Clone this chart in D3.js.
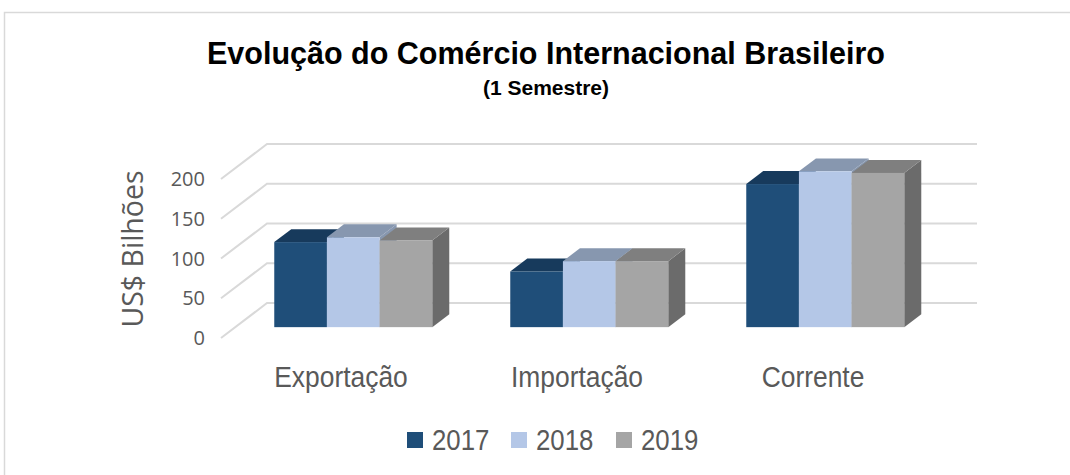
<!DOCTYPE html>
<html>
<head>
<meta charset="utf-8">
<script src="https://cdn.jsdelivr.net/npm/d3@7"></script>
<style>
  body { margin: 0; background: #fff; }
</style>
</head>
<body>
<div id="chart"></div>
<script>
const categories = ["Exportação", "Importação", "Corrente"];
const years = ["2017", "2018", "2019"];
const values2017 = [107, 70, 180];
const values2018 = [113, 83, 196];
const values2019 = [109, 83, 194];
const yTicks = [0, 50, 100, 150, 200];

const series = [values2017, values2018, values2019];

const width = 1070;
const height = 475;

// colours per year: front, top, side
const colors = [
    {front: "#1F4E79", top: "#173A5C", side: "#153553"},
    {front: "#B4C7E7", top: "#8797AF", side: "#8797AF"},
    {front: "#A5A5A5", top: "#7F7F7F", side: "#6B6B6B"}
];

// 3d projection: depth fraction -> offset
const depthDx = 46, depthDy = -35;
const barFront = 0.31, barBack = 0.68;

const x = d3.scaleBand().domain(categories).range([221, 929]);
const xInner = d3.scaleBand().domain(years).range([39, 197]);
const y = d3.scaleLinear().domain([0, 200]).range([338, 179]);

const svg = d3.select("#chart").append("svg")
    .attr("width", width)
    .attr("height", height);

// outer border (left + top)
svg.append("path")
    .attr("d", `M4.5,${height} V12.5 H${width}`)
    .attr("fill", "none")
    .attr("stroke", "#D9D9D9")
    .attr("stroke-width", 1.5);

// title
svg.append("text")
    .attr("x", 546).attr("y", 64)
    .attr("text-anchor", "middle")
    .style("font", "bold 30.5px 'Liberation Sans', Arial, sans-serif")
    .attr("fill", "#000")
    .text("Evolução do Comércio Internacional Brasileiro");

svg.append("text")
    .attr("x", 546).attr("y", 95)
    .attr("text-anchor", "middle")
    .style("font", "bold 21px 'Liberation Sans', Arial, sans-serif")
    .attr("fill", "#000")
    .text("(1 Semestre)");

// gridlines: side wall diagonal + back wall
const grid = svg.append("g")
    .attr("stroke", "#D9D9D9")
    .attr("stroke-width", 2)
    .attr("fill", "none");

const [x0] = x.range();
const xEnd = x.range()[1];
grid.selectAll("path")
    .data(yTicks)
    .join("path")
    .attr("d", d => `M${x0},${y(d)} L${x0 + depthDx},${y(d) + depthDy} L${xEnd + depthDx + 2},${y(d) + depthDy}`);

// y tick labels
svg.append("g")
    .selectAll("text")
    .data(yTicks)
    .join("text")
    .attr("x", 205)
    .attr("y", d => y(d) + 7)
    .attr("text-anchor", "end")
    .style("font", "20px 'Open Sans', sans-serif")
    .attr("fill", "#595959")
    .text(d => d);

// y axis title
svg.append("text")
    .attr("transform", "translate(143,249) rotate(-90)")
    .attr("text-anchor", "middle")
    .style("font", "28.5px 'Open Sans', sans-serif")
    .attr("fill", "#595959")
    .text("US$ Bilhões");

// bars
const fdx = depthDx * barFront, fdy = depthDy * barFront;
const bdx = depthDx * barBack, bdy = depthDy * barBack;
const bw = xInner.bandwidth();

const bars = [];
categories.forEach((c, ci) => {
    years.forEach((yr, si) => {
        bars.push({cat: c, year: yr, si: si, value: series[si][ci]});
    });
});

const barG = svg.append("g")
    .selectAll("g")
    .data(bars)
    .join("g");

barG.each(function(d) {
    const g = d3.select(this);
    const left = x(d.cat) + xInner(d.year) + fdx;
    const right = left + bw;
    const top = y(d.value) + fdy;
    const base = y(0) + fdy;
    const ddx = bdx - fdx, ddy = bdy - fdy;
    const col = colors[d.si];
    // side
    g.append("path")
        .attr("d", `M${right},${base} L${right + ddx},${base + ddy} L${right + ddx},${top + ddy} L${right},${top} Z`)
        .attr("fill", col.side);
    // top
    g.append("path")
        .attr("d", `M${left},${top} L${left + ddx},${top + ddy} L${right + ddx},${top + ddy} L${right},${top} Z`)
        .attr("fill", col.top);
    // front
    g.append("rect")
        .attr("x", left).attr("y", top)
        .attr("width", bw).attr("height", base - top)
        .attr("fill", col.front);
});

// category labels
svg.append("g")
    .selectAll("text")
    .data(categories)
    .join("text")
    .attr("transform", d => `translate(${x(d) + x.bandwidth() / 2 + 2},387) scale(0.88,1)`)
    .attr("text-anchor", "middle")
    .style("font", "30px 'Liberation Sans', Arial, sans-serif")
    .attr("fill", "#595959")
    .text(d => d);

// legend
const legendX = [407, 511, 616];
const legend = svg.append("g")
    .selectAll("g")
    .data(years)
    .join("g")
    .attr("transform", (d, i) => `translate(${legendX[i]},432)`);

legend.append("rect")
    .attr("width", 16).attr("height", 16)
    .attr("fill", (d, i) => colors[i].front);

legend.append("text")
    .attr("transform", "translate(25,18) scale(0.86,1)")
    .style("font", "30px 'Liberation Sans', Arial, sans-serif")
    .attr("fill", "#595959")
    .text(d => d);
</script>
</body>
</html>
